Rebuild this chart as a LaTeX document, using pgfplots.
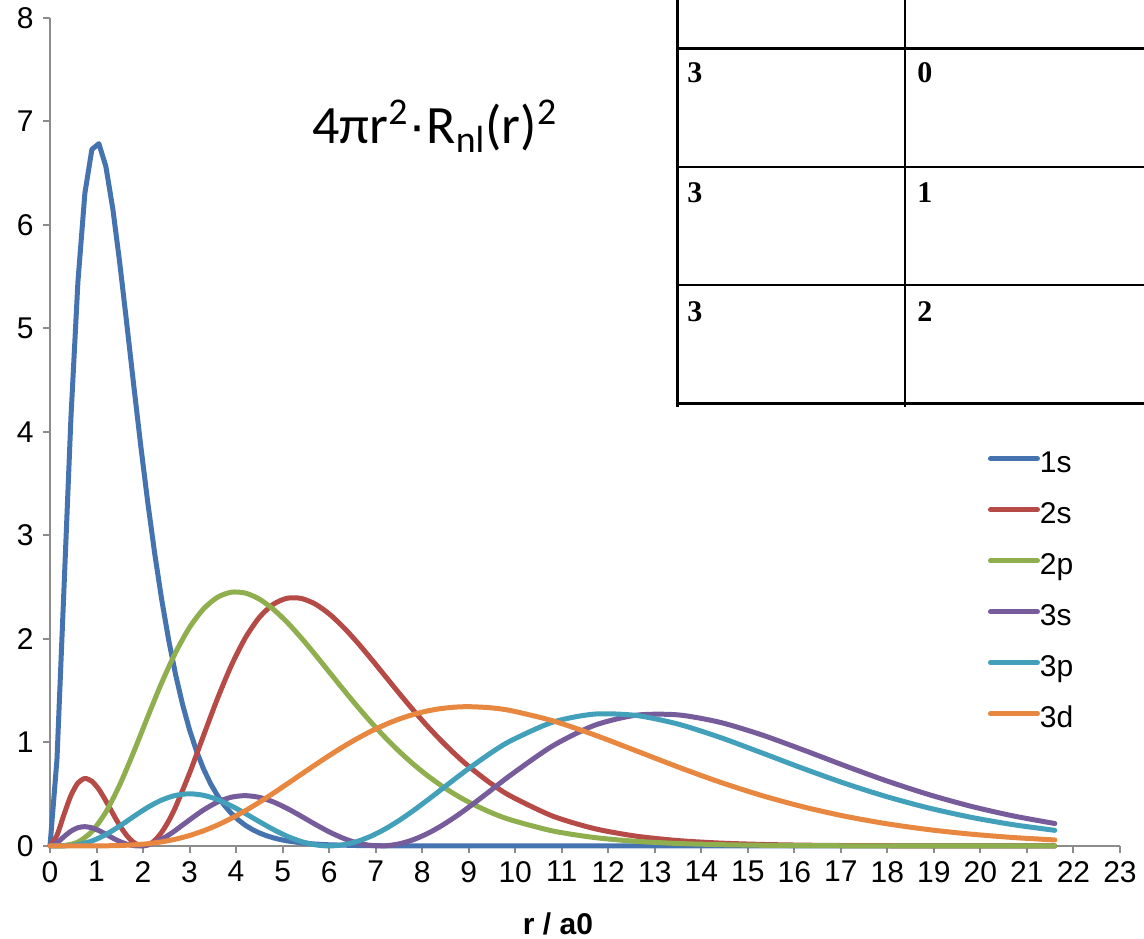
\documentclass[border=0pt]{standalone}
\usepackage{fontspec}
\setmainfont{Liberation Sans}
\newfontfamily\calib{Carlito}
\newfontfamily\timesf{Liberation Serif}
\usepackage{pgfplots}
\usepackage{pgfplotstable}
\pgfplotsset{compat=1.18}

\definecolor{c1s}{HTML}{4573B0}
\definecolor{c2s}{HTML}{B54A46}
\definecolor{c2p}{HTML}{8FAE4E}
\definecolor{c3s}{HTML}{765C9B}
\definecolor{c3p}{HTML}{43A0BA}
\definecolor{c3d}{HTML}{E8873F}
\definecolor{axgray}{HTML}{8C8C8C}

\pgfplotstableread{
r y
0 0
0.15 0.8378
0.3 2.4827
0.45 4.1384
0.6 5.4502
0.75 6.3080
0.9 6.7300
1.05 6.7860
1.2 6.5670
1.35 6.1566
1.5 5.6307
1.65 5.0473
1.8 4.4500
1.95 3.8689
2.1 3.3241
2.25 2.8269
2.4 2.3827
2.55 1.9927
2.7 1.6550
2.85 1.3661
3.0 1.1214
3.15 0.9159
3.3 0.7447
3.45 0.6030
3.6 0.4864
3.75 0.3909
3.9 0.3133
4.05 0.2503
4.2 0.1994
4.35 0.1585
4.5 0.1256
4.65 0.0994
4.8 0.0784
4.95 0.0618
5.1 0.0486
5.4 0.0299
5.7 0.0183
6.0 0.0111
6.6 0.0041
7.2 0.0015
8.1 0.0003
9.0 0.0001
21.6 0
}\tonesS

\pgfplotstableread{
r y
0 0
0.15 0.1041
0.3 0.3027
0.45 0.4873
0.6 0.6083
0.75 0.6521
0.9 0.6245
1.05 0.5469
1.2 0.4360
1.35 0.3136
1.5 0.1972
1.65 0.1006
1.8 0.0337
1.95 0.0021
2.1 0.0085
2.25 0.0524
2.4 0.1313
2.55 0.2413
2.7 0.3771
3.0 0.7038
3.3 1.0662
3.6 1.4240
3.9 1.7459
4.2 2.0111
4.5 2.2085
4.8 2.3351
5.1 2.3938
5.4 2.3915
5.7 2.3378
6.0 2.2428
6.3 2.1168
6.6 1.9697
6.9 1.8096
7.2 1.6439
7.5 1.4783
7.8 1.3172
8.1 1.1640
8.4 1.0209
8.7 0.8891
9.0 0.7694
9.45 0.6127
9.9 0.4821
10.8 0.2894
11.7 0.1678
12.6 0.0945
13.5 0.0519
14.4 0.0279
15.3 0.0147
16.2 0.0077
17.1 0.0039
18.0 0.0020
18.9 0.0010
19.8 0.0005
20.7 0.0002
21.6 0.0001
}\ttwoS

\pgfplotstableread{
r y
0 0
0.3 0.0031
0.6 0.0372
0.9 0.1394
1.2 0.3270
1.5 0.5915
1.8 0.9086
2.1 1.2470
2.4 1.5759
2.7 1.8701
3.0 2.1116
3.3 2.2903
3.6 2.4030
3.9 2.4520
4.2 2.4433
4.5 2.3852
4.8 2.2874
5.1 2.1596
5.4 2.0109
5.7 1.8494
6.0 1.6821
6.3 1.5146
6.6 1.3516
6.9 1.1961
7.2 1.0505
7.5 0.9163
7.8 0.7941
8.1 0.6842
8.4 0.5862
8.7 0.4997
9.0 0.4240
9.45 0.3286
9.9 0.2524
10.8 0.1453
11.7 0.0814
12.6 0.0445
13.5 0.0238
14.4 0.0125
15.3 0.0065
16.2 0.0033
17.1 0.0017
18.0 0.0008
18.9 0.0004
19.8 0.0002
20.7 0.0001
21.6 0.0000
}\ttwoP

\pgfplotstableread{
r y
0 0
0.15 0.0308
0.3 0.0893
0.45 0.1428
0.6 0.1764
0.75 0.1864
0.9 0.1751
1.05 0.1485
1.2 0.1133
1.35 0.0762
1.5 0.0428
1.65 0.0174
1.8 0.0029
1.95 0.0006
2.1 0.0109
2.25 0.0329
2.4 0.0651
2.55 0.1054
2.7 0.1517
3.0 0.2520
3.3 0.3476
3.6 0.4238
3.9 0.4712
4.2 0.4860
4.5 0.4692
4.8 0.4255
5.1 0.3621
5.4 0.2872
5.7 0.2094
6.0 0.1364
6.3 0.0749
6.6 0.0299
6.9 0.0048
7.2 0.0013
7.5 0.0196
7.8 0.0588
8.1 0.1167
8.4 0.1908
8.7 0.2776
9.0 0.3738
9.45 0.5279
9.9 0.6840
10.8 0.9652
11.7 1.1649
12.6 1.2634
13.5 1.2666
14.4 1.1948
15.3 1.0733
16.2 0.9262
17.1 0.7727
18.0 0.6263
18.9 0.4952
19.8 0.3830
20.7 0.2906
21.6 0.2168
}\tthreeS

\pgfplotstableread{
r y
0 0
0.3 0.0011
0.6 0.0129
0.9 0.0478
1.2 0.1096
1.5 0.1926
1.8 0.2849
2.1 0.3726
2.4 0.4434
2.7 0.4886
3.0 0.5039
3.3 0.4893
3.6 0.4483
3.9 0.3870
4.2 0.3131
4.5 0.2346
4.8 0.1591
5.1 0.0934
5.4 0.0427
5.7 0.0109
6.0 0.0000
6.3 0.0109
6.6 0.0428
6.9 0.0943
7.2 0.1627
7.5 0.2450
7.8 0.3379
8.1 0.4379
8.4 0.5416
8.7 0.6458
9.0 0.7476
9.45 0.8903
9.9 1.0152
10.8 1.1953
11.7 1.2741
12.6 1.2610
13.5 1.1777
14.4 1.0495
15.3 0.8998
16.2 0.7466
17.1 0.6024
18.0 0.4744
18.9 0.3657
19.8 0.2767
20.7 0.2058
21.6 0.1508
}\tthreeP

\pgfplotstableread{
r y
0 0
0.3 0.0000
0.6 0.0000
0.9 0.0003
1.2 0.0014
1.5 0.0043
1.8 0.0105
2.1 0.0216
2.4 0.0394
2.7 0.0654
3.0 0.1008
3.3 0.1462
3.6 0.2017
3.9 0.2670
4.2 0.3410
4.5 0.4223
4.8 0.5093
5.1 0.5999
5.4 0.6921
5.7 0.7838
6.0 0.8729
6.3 0.9578
6.6 1.0366
6.9 1.1081
7.2 1.1712
7.5 1.2250
7.8 1.2691
8.1 1.3031
8.4 1.3270
8.7 1.3411
9.0 1.3457
9.45 1.3359
9.9 1.3084
10.8 1.2102
11.7 1.0736
12.6 0.9192
13.5 0.7631
14.4 0.6169
15.3 0.4871
16.2 0.3767
17.1 0.2859
18.0 0.2135
18.9 0.1570
19.8 0.1139
20.7 0.0816
21.6 0.0578
}\tthreeD

\begin{document}
\begin{tikzpicture}
\begin{axis}[
  scale only axis,
  width=535pt, height=414pt,
  xmin=0, xmax=23, ymin=0, ymax=8,
  axis lines*=left,
  axis line style={draw=axgray, line width=1pt, -},
  xtick={0,...,23}, ytick={0,...,8},
  tick align=outside,
  major tick length=3.5pt,
  tick style={draw=axgray, line width=1pt},
  tick label style={font=\fontsize{15}{17}\selectfont, text=black},
  xticklabel style={inner sep=3pt, yshift=-1pt},
  yticklabel style={inner sep=3pt, xshift=-1.5pt},
  /pgf/number format/assume math mode=true,
  clip=false,
  xlabel={\textbf{r / a0}},
  x label style={at={(axis description cs:0.4748,0)}, anchor=center, inner sep=0pt, yshift=-39pt, font=\fontsize{15}{17}\selectfont},
  legend cell align=left,
  legend image code/.code={\draw[#1, line cap=round, yshift=1.6pt] (0pt,0pt) -- (23.5pt,0pt);},
  legend style={draw=none, fill=none, inner sep=0pt, outer sep=0pt,
    at={(axis cs:20.163,3.818)}, anchor=north west,
    row sep=14.5pt, font=\fontsize{15}{17}\selectfont,
    nodes={inner sep=0pt, text height=11pt, text depth=0pt},
    /tikz/every even column/.append style={column sep=6.5pt}},
  every axis plot/.append style={line width=2.5pt, line join=round, line cap=round},
]
\addplot[c1s, sharp plot] table[x=r, y=y] {\tonesS};
\addlegendentry{1s}
\addplot[c2s, smooth, tension=0.45] table[x=r, y=y] {\ttwoS};
\addlegendentry{2s}
\addplot[c2p, smooth, tension=0.45] table[x=r, y=y] {\ttwoP};
\addlegendentry{2p}
\addplot[c3s, smooth, tension=0.45] table[x=r, y=y] {\tthreeS};
\addlegendentry{3s}
\addplot[c3p, smooth, tension=0.45] table[x=r, y=y] {\tthreeP};
\addlegendentry{3p}
\addplot[c3d, smooth, tension=0.45] table[x=r, y=y] {\tthreeD};
\addlegendentry{3d}

% title
\node[anchor=base west, inner sep=0pt, font=\calib\fontsize{27}{31}\selectfont]
  at (axis cs:5.632,6.792) {4πr\textsuperscript{2}{\fontspec{Liberation Sans}·}R\textsubscript{nl}(r)\textsuperscript{2}};

% table overlay
\draw[black, line width=1.5pt] (axis cs:13.478,8.174) -- (axis cs:13.478,4.242);
\draw[black, line width=0.75pt] (axis cs:18.379,8.174) -- (axis cs:18.379,4.242);
\draw[black, line width=1.5pt] (axis cs:13.478,7.710) -- (axis cs:23.517,7.710);
\draw[black, line width=0.75pt] (axis cs:13.478,6.560) -- (axis cs:23.517,6.560);
\draw[black, line width=0.75pt] (axis cs:13.478,5.420) -- (axis cs:23.517,5.420);
\draw[black, line width=1.5pt] (axis cs:13.478,4.271) -- (axis cs:23.517,4.271);
\begin{scope}[every node/.style={anchor=base west, inner sep=0pt, font=\timesf\bfseries\fontsize{15}{17}\selectfont}]
\node at (axis cs:13.693,7.372) {3};
\node at (axis cs:18.637,7.372) {0};
\node at (axis cs:13.693,6.222) {3};
\node at (axis cs:18.637,6.222) {1};
\node at (axis cs:13.693,5.072) {3};
\node at (axis cs:18.637,5.072) {2};
\end{scope}

\coordinate (bbSW) at (axis cs:-1.075,-0.8986);
\coordinate (bbNE) at (axis cs:23.517,8.174);
\end{axis}
\pgfresetboundingbox
\useasboundingbox (bbSW) rectangle (bbNE);
\end{tikzpicture}
\end{document}
